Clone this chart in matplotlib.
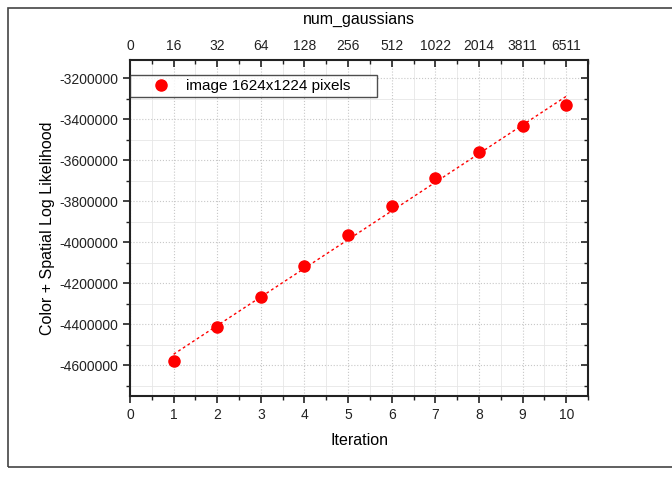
import matplotlib.pyplot as plt
import matplotlib.patches as patches
from matplotlib.ticker import MultipleLocator
import numpy as np

plt.rcParams['font.family'] = ['Liberation Sans', 'DejaVu Sans']

# Log likelihood per EM iteration
iterations = [1, 2, 3, 4, 5, 6, 7, 8, 9, 10]
likelihood = [-4581000, -4414000, -4265000, -4114000, -3964000,
              -3822000, -3686000, -3558000, -3433000, -3331000]

# Number of gaussians at each iteration (top axis)
top_ticks = [0, 1, 2, 3, 4, 5, 6, 7, 8, 9, 10]
top_labels = ['0', '16', '32', '64', '128', '256', '512', '1022', '2014', '3811', '6511']

fig = plt.figure(figsize=(6.72, 4.78), dpi=100)
ax = fig.add_axes([130 / 672, 1 - 396 / 478, 458 / 672, 336 / 478])

# frame around the whole graph page
fig.patches.append(patches.Rectangle((8 / 672, 1 - 467 / 478), 1.0, 459 / 478,
                                     transform=fig.transFigure, fill=False,
                                     edgecolor='#444444', linewidth=1.2, clip_on=False))

ax.plot(iterations, likelihood, 'o', color='#ff0000', markersize=8,
        label='image 1624x1224 pixels', zorder=4)

# linear fit through the points
coef = np.polyfit(iterations, likelihood, 1)
fit_x = np.array([iterations[0], iterations[-1]])
ax.plot(fit_x, np.polyval(coef, fit_x), color='#ff0000', linestyle=(0, (2, 2)),
        linewidth=1, zorder=3)

ax.set_xlim(0, 10.5)
ax.set_ylim(-4750000, -3110000)

ax.xaxis.set_major_locator(MultipleLocator(1))
ax.xaxis.set_minor_locator(MultipleLocator(0.5))
ax.yaxis.set_major_locator(MultipleLocator(200000))
ax.yaxis.set_minor_locator(MultipleLocator(100000))
ax.yaxis.set_major_formatter(plt.FuncFormatter(lambda v, p: '%d' % v))

ax.grid(which='major', color='#c8c8c8', linestyle=':', linewidth=0.8)
ax.grid(which='minor', color='#e6e6e6', linestyle='-', linewidth=0.6)
ax.set_axisbelow(True)

ax.tick_params(which='both', labelsize=10, colors='#222222', direction='out', right=False)
ax.tick_params(which='major', length=5, width=1.2)
ax.tick_params(which='minor', length=3, width=1)
for s in ax.spines.values():
    s.set_linewidth(1.5)
    s.set_color('#222222')

ax.set_xlabel('Iteration', fontsize=11.5, labelpad=8)
ax.set_ylabel('Color + Spatial Log Likelihood', fontsize=11.5, labelpad=3)

# right side ticks point inward
right = ax.twinx()
right.set_ylim(ax.get_ylim())
right.yaxis.set_major_locator(MultipleLocator(200000))
right.yaxis.set_minor_locator(MultipleLocator(100000))
right.tick_params(which='both', direction='in', labelright=False, colors='#222222')
right.tick_params(which='major', length=5, width=1.2)
right.tick_params(which='minor', length=3, width=1)
for s in right.spines.values():
    s.set_visible(False)

top = ax.twiny()
top.set_xlim(ax.get_xlim())
top.set_xticks(top_ticks)
top.set_xticklabels(top_labels)
top.xaxis.set_minor_locator(MultipleLocator(0.5))
top.tick_params(which='both', direction='in', labelsize=10, colors='#222222', pad=5)
top.tick_params(which='major', length=5, width=1.2)
top.tick_params(which='minor', length=3, width=1)
top.set_xlabel('num_gaussians', fontsize=11.5, labelpad=11)
for s in top.spines.values():
    s.set_visible(False)

leg = ax.legend(loc='upper left', bbox_to_anchor=(0.0, 0.955, 247 / 458, 0.0),
                mode='expand', fontsize=11, frameon=True, fancybox=False,
                borderaxespad=0, handletextpad=-0.2, borderpad=0.25,
                handlelength=3.6)
leg.get_frame().set_edgecolor('#222222')
leg.get_frame().set_linewidth(1)

fig.savefig('out.png', dpi=100)
